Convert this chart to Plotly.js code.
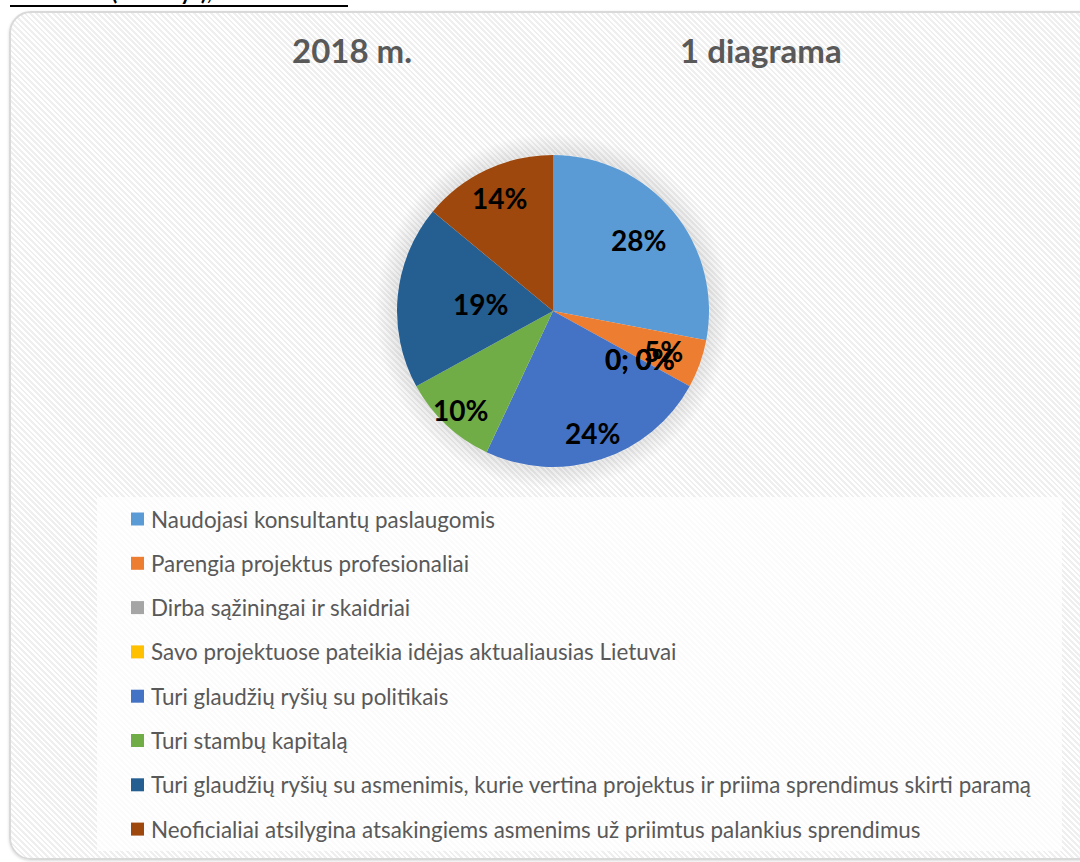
<!DOCTYPE html>
<html>
<head>
<meta charset="utf-8">
<script src="https://cdn.plot.ly/plotly-3.0.1.min.js"></script>
<style>
  html, body { margin:0; padding:0; background:#ffffff; width:1080px; height:862px; overflow:hidden; }
  #frame {
    position:absolute; left:9px; top:11px; width:1100px; height:845px;
    border:2px solid #d9d9d9; border-radius:22px;
    background: repeating-linear-gradient(45deg, #ffffff 0px, #ffffff 2px, #efefef 2px, #efefef 4px);
    box-shadow: 0 1px 3px rgba(0,0,0,0.15);
  }
  #glow {
    position:absolute; left:0; top:0; width:1080px; height:862px;
    background: radial-gradient(circle at 553px 311px, rgba(0,0,0,0) 154px, rgba(0,0,0,0.09) 157px, rgba(0,0,0,0) 178px);
  }
  #chart { position:absolute; left:0; top:0; width:1080px; height:862px; }
</style>
</head>
<body>
<div id="frame"></div>
<div id="glow"></div>
<div id="chart"></div>
<script>
const categories = [
  "Naudojasi konsultantų paslaugomis",
  "Parengia projektus profesionaliai",
  "Dirba sąžiningai ir skaidriai",
  "Savo projektuose pateikia idėjas aktualiausias Lietuvai",
  "Turi glaudžių ryšių su politikais",
  "Turi stambų kapitalą",
  "Turi glaudžių ryšių su asmenimis, kurie vertina projektus ir priima sprendimus skirti paramą",
  "Neoficialiai atsilygina atsakingiems asmenims už priimtus palankius sprendimus"
];
const values = [28, 5, 0, 0, 24, 10, 19, 14];
const colors = ["#5B9BD5", "#ED7D31", "#A5A5A5", "#FFC000", "#4472C4", "#70AD47", "#255E91", "#9E480E"];
const titleLeft = "2018 m.";
const titleRight = "1 diagrama";
const topFragment = "žmonės (asmenys), kurios:";

// layout-only: radial placement of each data label (fraction of radius)
const labelRadius = [0.71, 0.75, 0.64, 0.64, 0.82, 0.87, 0.47, 0.80];

const W = 1080, H = 862;
const px = x => x / W;
const py = y => 1 - y / H;

const cx = 553, cy = 311, R = 156;
const total = values.reduce((a, b) => a + b, 0);

const trace = {
  type: "pie",
  labels: categories,
  values: values,
  sort: false,
  direction: "clockwise",
  rotation: 0,
  marker: { colors: colors, line: { width: 0 } },
  textinfo: "none",
  domain: { x: [px(cx - R), px(cx + R)], y: [py(cy + R), py(cy - R)] },
  showlegend: false,
  hoverinfo: "label+percent"
};

const annotations = [
  { text: "<b>" + titleLeft + "</b>", x: px(352), y: py(50), xref: "paper", yref: "paper",
    xanchor: "center", yanchor: "middle",
    showarrow: false, font: { family: "Lato, sans-serif", size: 33, color: "#595959" } },
  { text: "<b>" + titleRight + "</b>", x: px(761), y: py(50), xref: "paper", yref: "paper",
    xanchor: "center", yanchor: "middle",
    showarrow: false, font: { family: "Lato, sans-serif", size: 33, color: "#595959" } },
  { text: "<b>" + topFragment + "</b>", x: px(30), y: py(-8), xref: "paper", yref: "paper",
    xanchor: "left", yanchor: "middle", showarrow: false, borderpad: 0,
    font: { family: "Lato, sans-serif", size: 22, color: "#000000" } }
];

// data labels, placed along each slice's bisector
let cum = 0;
values.forEach((v, i) => {
  const pct = Math.round(v / total * 100);
  const th = 2 * Math.PI * (cum + v / 2) / total;
  const k = labelRadius[i];
  const txt = v === 0 ? (v + "; " + pct + "%") : (pct + "%");
  annotations.push({
    text: "<b>" + txt + "</b>",
    x: px(cx + k * R * Math.sin(th)), y: py(cy - k * R * Math.cos(th)),
    xref: "paper", yref: "paper", xanchor: "center", yanchor: "middle", showarrow: false,
    font: { family: "Lato, sans-serif", size: 28, color: "#000000" }
  });
  cum += v;
});

const shapes = [
  { type: "rect", xref: "paper", yref: "paper", x0: px(97), x1: px(1062), y0: py(851), y1: py(497),
    fillcolor: "rgba(255,255,255,0.75)", line: { width: 0 }, layer: "below" },
  { type: "line", xref: "paper", yref: "paper", x0: px(10), x1: px(348), y0: py(6), y1: py(6),
    line: { color: "#000000", width: 2 } }
];

// legend
const legY0 = 519, legStep = 44.3;
categories.forEach((c, i) => {
  const yc = legY0 + i * legStep;
  shapes.push({ type: "rect", xref: "paper", yref: "paper",
    x0: px(131), x1: px(144), y0: py(yc + 6.5), y1: py(yc - 6.5),
    fillcolor: colors[i], line: { width: 0 } });
  annotations.push({ text: c, x: px(149), y: py(yc), xref: "paper", yref: "paper",
    xanchor: "left", yanchor: "middle", showarrow: false,
    font: { family: "Lato, sans-serif", size: 22.4, color: "#595959" } });
});

const layout = {
  width: W, height: H,
  margin: { l: 0, r: 0, t: 0, b: 0 },
  paper_bgcolor: "rgba(0,0,0,0)",
  plot_bgcolor: "rgba(0,0,0,0)",
  annotations: annotations,
  shapes: shapes,
  showlegend: false
};

Plotly.newPlot("chart", [trace], layout, { displayModeBar: false, staticPlot: true });
</script>
</body>
</html>
